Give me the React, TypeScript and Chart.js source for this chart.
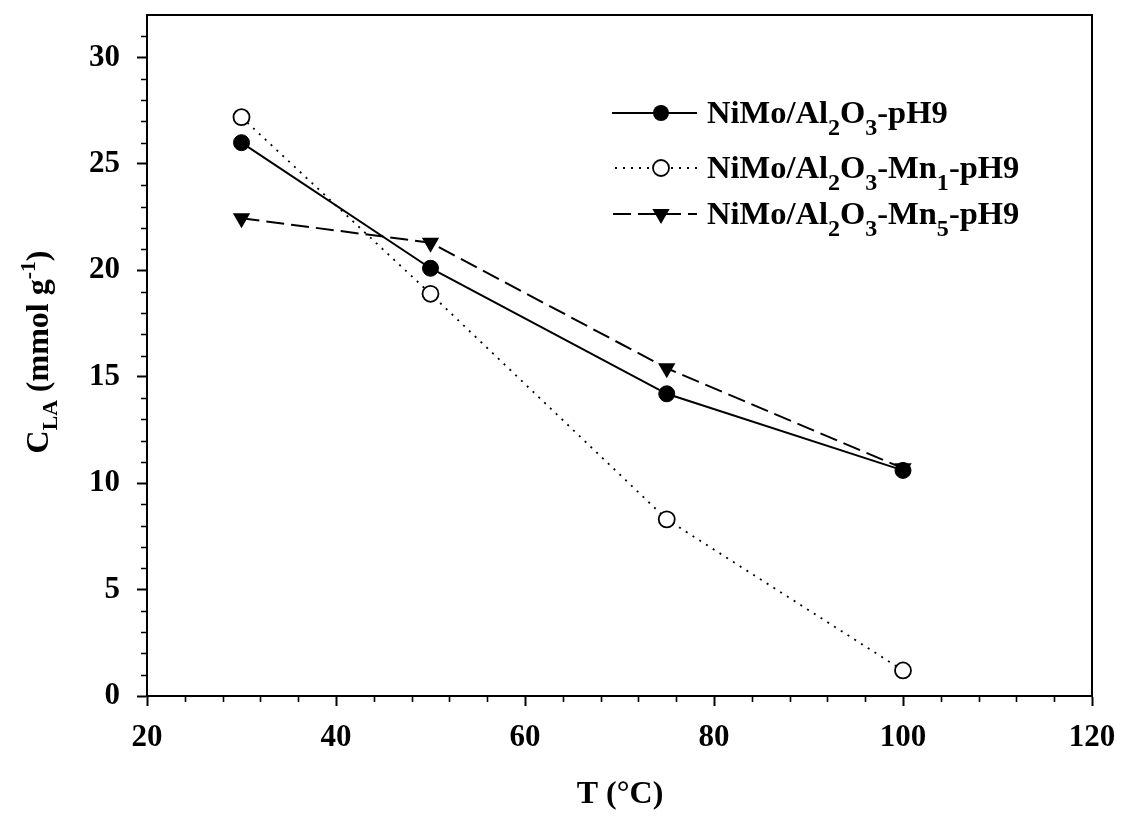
import React, { useEffect, useRef } from 'react';
import { Chart, registerables } from 'chart.js';
Chart.register(...registerables);

const temperatures = [30, 50, 75, 100];
const seriesPH9 = [26.0, 20.1, 14.2, 10.6];
const seriesMn1 = [27.2, 18.9, 8.3, 1.2];
const seriesMn5 = [22.45, 21.3, 15.4, 10.7];

const xMin = 20;
const xMax = 120;
const xMajorStep = 20;
const xMinorStep = 4;
const yMin = 0;
const yMax = 32;
const yMajorStep = 5;
const yMinorStep = 1;

type Part = { t: string; sub?: boolean; sup?: boolean };

const legendPH9: Part[] = [{ t: 'NiMo/Al' }, { t: '2', sub: true }, { t: 'O' }, { t: '3', sub: true }, { t: '-pH9' }];
const legendMn1: Part[] = [{ t: 'NiMo/Al' }, { t: '2', sub: true }, { t: 'O' }, { t: '3', sub: true }, { t: '-Mn' }, { t: '1', sub: true }, { t: '-pH9' }];
const legendMn5: Part[] = [{ t: 'NiMo/Al' }, { t: '2', sub: true }, { t: 'O' }, { t: '3', sub: true }, { t: '-Mn' }, { t: '5', sub: true }, { t: '-pH9' }];
const yTitle: Part[] = [{ t: 'C' }, { t: 'LA', sub: true }, { t: ' (mmol g' }, { t: '-1', sup: true }, { t: ')' }];
const xTitle = 'T (°C)';

const FONT = '"Liberation Serif", "Times New Roman", serif';

function richWidth(ctx: CanvasRenderingContext2D, parts: Part[], size: number, subRatio: number) {
  let w = 0;
  for (const p of parts) {
    const s = p.sub || p.sup ? size * subRatio : size;
    ctx.font = `bold ${s}px ${FONT}`;
    w += ctx.measureText(p.t).width;
  }
  return w;
}

function drawRich(ctx: CanvasRenderingContext2D, parts: Part[], x: number, y: number, size: number, subRatio: number, subOff: number) {
  let cx = x;
  ctx.textAlign = 'left';
  ctx.textBaseline = 'alphabetic';
  for (const p of parts) {
    const s = p.sub || p.sup ? size * subRatio : size;
    ctx.font = `bold ${s}px ${FONT}`;
    const dy = p.sub ? size * subOff : p.sup ? -size * 0.42 : 0;
    ctx.fillText(p.t, cx, y + dy);
    cx += ctx.measureText(p.t).width;
  }
}

function drawMarker(ctx: CanvasRenderingContext2D, kind: string, x: number, y: number) {
  ctx.save();
  ctx.setLineDash([]);
  ctx.strokeStyle = '#000';
  ctx.lineWidth = 1.8;
  if (kind === 'filled') {
    ctx.fillStyle = '#000';
    ctx.beginPath();
    ctx.arc(x, y, 8, 0, Math.PI * 2);
    ctx.fill();
  } else if (kind === 'open') {
    ctx.fillStyle = '#fff';
    ctx.beginPath();
    ctx.arc(x, y, 8, 0, Math.PI * 2);
    ctx.fill();
    ctx.stroke();
  } else {
    const r = 10;
    ctx.fillStyle = '#000';
    ctx.beginPath();
    for (let i = 0; i < 3; i++) {
      const a = Math.PI + (i * 2 * Math.PI) / 3;
      const px = x + Math.sin(a) * r;
      const py = y - Math.cos(a) * r;
      if (i === 0) ctx.moveTo(px, py);
      else ctx.lineTo(px, py);
    }
    ctx.closePath();
    ctx.fill();
  }
  ctx.restore();
}

const decorPlugin = {
  id: 'decor',
  afterDraw(chart: any) {
    const ctx: CanvasRenderingContext2D = chart.ctx;
    const area = chart.chartArea;
    const xs = chart.scales.x;
    const ys = chart.scales.y;
    ctx.save();
    // frame
    ctx.strokeStyle = '#000';
    ctx.lineWidth = 2;
    ctx.strokeRect(area.left, area.top, area.right - area.left, area.bottom - area.top);
    // minor ticks
    ctx.lineWidth = 1.6;
    ctx.beginPath();
    for (let v = xMin + xMinorStep; v < xMax; v += xMinorStep) {
      if (v % xMajorStep === 0) continue;
      const px = Math.round(xs.getPixelForValue(v)) + 0.5;
      ctx.moveTo(px, area.bottom);
      ctx.lineTo(px, area.bottom + 6);
    }
    for (let v = yMin + yMinorStep; v < yMax; v += yMinorStep) {
      if (v % yMajorStep === 0) continue;
      const py = Math.round(ys.getPixelForValue(v)) + 0.5;
      ctx.moveTo(area.left, py);
      ctx.lineTo(area.left - 6, py);
    }
    ctx.stroke();

    ctx.fillStyle = '#000';
    // x title
    ctx.font = `bold 32px ${FONT}`;
    ctx.textAlign = 'center';
    ctx.textBaseline = 'alphabetic';
    ctx.fillText(xTitle, 620, 803);

    // y title
    const ySize = 32;
    const yw = richWidth(ctx, yTitle, ySize, 0.68);
    ctx.save();
    ctx.translate(48, 352);
    ctx.rotate(-Math.PI / 2);
    drawRich(ctx, yTitle, -yw / 2, 0, ySize, 0.68, 0.28);
    ctx.restore();

    // legend
    const rows = [
      { parts: legendPH9, kind: 'filled', dash: [] as number[], my: 113, lw: 2, x0: 612 },
      { parts: legendMn1, kind: 'open', dash: [2, 6], my: 168, lw: 1.8, x0: 615 },
      { parts: legendMn5, kind: 'tri', dash: [18, 7], my: 214, lw: 2, x0: 613 },
    ];
    for (const r of rows) {
      ctx.save();
      ctx.strokeStyle = '#000';
      ctx.lineWidth = r.lw;
      ctx.setLineDash(r.dash);
      ctx.beginPath();
      ctx.moveTo(r.x0, r.my);
      ctx.lineTo(697, r.my);
      ctx.stroke();
      ctx.restore();
      drawMarker(ctx, r.kind, 661, r.my);
      ctx.fillStyle = '#000';
      drawRich(ctx, r.parts, 707, r.my + 10, 32.5, 0.74, 0.38);
    }
    ctx.restore();
  },
};

export default function App() {
  const ref = useRef<HTMLCanvasElement | null>(null);
  useEffect(() => {
    if (!ref.current) return;
    const pts = (ys: number[]) => temperatures.map((x, i) => ({ x, y: ys[i] }));
    const tickFont = { family: FONT, size: 31, weight: 'bold' as const };
    const chart = new Chart(ref.current, {
      type: 'line',
      data: {
        datasets: [
          {
            label: 'NiMo/Al2O3-pH9',
            data: pts(seriesPH9),
            borderColor: '#000',
            borderWidth: 2,
            pointStyle: 'circle',
            pointRadius: 8,
            pointBackgroundColor: '#000',
            pointBorderColor: '#000',
            pointBorderWidth: 1,
            tension: 0,
            fill: false,
          },
          {
            label: 'NiMo/Al2O3-Mn1-pH9',
            data: pts(seriesMn1),
            borderColor: '#000',
            borderWidth: 1.8,
            borderDash: [2, 6],
            pointStyle: 'circle',
            pointRadius: 8,
            pointBackgroundColor: '#fff',
            pointBorderColor: '#000',
            pointBorderWidth: 1.8,
            tension: 0,
            fill: false,
          },
          {
            label: 'NiMo/Al2O3-Mn5-pH9',
            data: pts(seriesMn5),
            borderColor: '#000',
            borderWidth: 2,
            borderDash: [18, 7],
            pointStyle: 'triangle',
            rotation: 180,
            pointRadius: 10,
            pointBackgroundColor: '#000',
            pointBorderColor: '#000',
            pointBorderWidth: 0,
            tension: 0,
            fill: false,
          } as any,
        ],
      },
      options: {
        animation: false,
        responsive: false,
        devicePixelRatio: 1,
        layout: { padding: { left: 0, top: 15, right: 29, bottom: 0 } },
        plugins: { legend: { display: false }, tooltip: { enabled: false } },
        scales: {
          x: {
            type: 'linear',
            position: 'bottom',
            min: xMin,
            max: xMax,
            ticks: { stepSize: xMajorStep, font: tickFont, color: '#000', padding: 13, includeBounds: false, maxRotation: 0, autoSkip: false },
            grid: { drawOnChartArea: false, drawTicks: true, tickLength: 10, tickWidth: 2, tickColor: '#000' },
            border: { display: true, color: '#000', width: 2 },
            afterFit: (s: any) => {
              s.height = 124;
              s.paddingLeft = 0;
              s.paddingRight = 0;
              s.paddingTop = 0;
              s.paddingBottom = 0;
            },
          },
          y: {
            type: 'linear',
            position: 'left',
            min: yMin,
            max: yMax,
            ticks: { stepSize: yMajorStep, font: tickFont, color: '#000', padding: 17, includeBounds: false, autoSkip: false },
            grid: { drawOnChartArea: false, drawTicks: true, tickLength: 10, tickWidth: 2, tickColor: '#000' },
            border: { display: true, color: '#000', width: 2 },
            afterFit: (s: any) => {
              s.width = 147;
              s.paddingLeft = 0;
              s.paddingRight = 0;
              s.paddingTop = 0;
              s.paddingBottom = 0;
            },
          },
        },
      },
      plugins: [decorPlugin],
    });
    return () => chart.destroy();
  }, []);
  return (
    <div style={{ position: 'absolute', left: 0, top: 0, width: 1121, height: 820, background: '#fff' }}>
      <canvas ref={ref} width={1121} height={820} style={{ display: 'block' }} />
    </div>
  );
}
